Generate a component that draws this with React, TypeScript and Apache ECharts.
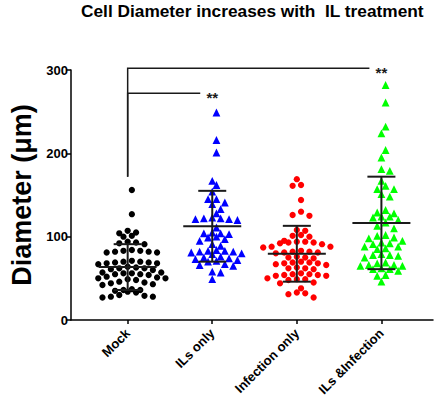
import React, { useEffect, useRef } from "react";
import * as echarts from "echarts";

const categories = ["Mock", "ILs only", "Infection only", "ILs &Infection"];

const mockValues = [
  156, 127, 107, 105, 104, 101, 100, 94, 93, 92, 91, 84, 83, 83, 82, 82, 81, 81,
  71, 70, 70, 69, 69, 68, 68, 67, 64, 63, 62, 62, 61, 60, 57, 57, 56, 56, 55, 55,
  54, 52, 51, 50, 50, 49, 48, 46, 45, 44, 43, 42, 37, 36, 36, 35, 34, 33, 30, 29,
  28, 28, 27,
];
const ilsValues = [
  249, 216, 201, 167, 162, 154, 145, 145, 141, 139, 133, 128, 123, 122, 122, 121,
  121, 120, 111, 105, 104, 104, 103, 100, 99, 97, 95, 91, 89, 84, 83, 83, 82, 82,
  81, 80, 79, 76, 75, 74, 73, 72, 71, 70, 67, 66, 65, 58, 57, 49,
];
const infectionValues = [
  169, 162, 161, 144, 130, 126, 125, 108, 107, 102, 101, 100, 95, 94, 94, 93, 93,
  92, 91, 88, 88, 87, 83, 82, 82, 81, 81, 80, 76, 75, 75, 74, 70, 69, 69, 68, 68,
  67, 66, 63, 62, 62, 61, 56, 55, 55, 54, 54, 53, 53, 50, 49, 49, 48, 45, 44, 38,
  33, 32, 31, 27,
];
const ilsInfectionValues = [
  282, 261, 232, 224, 204, 195, 181, 179, 167, 161, 157, 157, 151, 148, 132, 129,
  128, 124, 124, 123, 120, 117, 113, 110, 102, 101, 99, 98, 95, 93, 92, 91, 88, 88,
  86, 85, 79, 78, 78, 77, 75, 69, 68, 66, 66, 65, 65, 62, 61, 61, 59, 54, 53, 46,
];

const groupMeans = [63.5, 112.5, 79.5, 116.5];
const groupSDs = [27.5, 42.5, 33.5, 55.5];

const yTicks = [0, 100, 200, 300];

// significance comparisons
const comparisonFrom = [0, 0];
const comparisonTo = [3, 1];
const comparisonLevel = [302, 272];
const comparisonStart = [172, 172];
const comparisonLabel = ["**", "**"];

const FONT = "'Liberation Sans', Arial, sans-serif";

const groups = [
  { values: mockValues, color: "#000000", symbol: "circle", size: 6.3 },
  { values: ilsValues, color: "#0000FF", symbol: "triangle", size: 7.8 },
  { values: infectionValues, color: "#FF0000", symbol: "circle", size: 6.3 },
  { values: ilsInfectionValues, color: "#00FF00", symbol: "triangle", size: 7.8 },
];

// staggered-row scatter layout (rows of height rowH px, points spaced step px)
function rowLayout(values: number[], pxY: number, rowH: number, step: number): number[] {
  const rows = new Map<number, number[]>();
  values.forEach((v, i) => {
    const r = Math.round((v * pxY) / rowH);
    if (!rows.has(r)) rows.set(r, []);
    rows.get(r)!.push(i);
  });
  const result = new Array(values.length).fill(0);
  rows.forEach((idxs, r) => {
    const odd = Math.abs(r) % 2 === 1;
    idxs.forEach((idx, k) => {
      let pos: number;
      if (!odd) {
        const m = Math.ceil(k / 2);
        pos = k === 0 ? 0 : (k % 2 === 1 ? m : -m);
      } else {
        const m = Math.floor(k / 2) + 0.5;
        pos = k % 2 === 0 ? m : -m;
      }
      result[idx] = pos * step;
    });
  });
  return result;
}

export default function App() {
  const ref = useRef<HTMLDivElement>(null);
  useEffect(() => {
    if (!ref.current) return;
    const chart = echarts.init(ref.current, undefined, { renderer: "svg" });
    const baseOption: any = {
      animation: false,
      backgroundColor: "#ffffff",
      title: {
        text: "Cell Diameter increases with  IL treatment",
        left: 76,
        top: -3,
        textStyle: { fontFamily: FONT, fontWeight: "bold", fontSize: 17.3, color: "#000" },
      },
      grid: { left: 63, right: 7, top: 70, bottom: 82, containLabel: false },
      xAxis: {
        type: "value",
        min: -0.67,
        max: 3.61,
        splitLine: { show: false },
        axisLine: { show: true, onZero: false, lineStyle: { color: "#000", width: 1.5 } },
        axisTick: { show: true, customValues: [0, 1, 2, 3], length: 4, lineStyle: { color: "#000", width: 1.5 } },
        axisLabel: {
          show: true,
          customValues: [0, 1, 2, 3],
          formatter: (v: number) => categories[Math.round(v)] ?? "",
          rotate: 45,
          margin: 11,
          fontFamily: FONT,
          fontWeight: "bold",
          fontSize: 13,
          color: "#000",
        },
      },
      yAxis: {
        type: "value",
        min: 0,
        max: 300,
        interval: 100,
        name: "Diameter (μm)",
        nameLocation: "middle",
        nameGap: 36,
        nameTextStyle: { fontFamily: FONT, fontWeight: "bold", fontSize: 27, color: "#000" },
        splitLine: { show: false },
        axisLine: { show: true, onZero: false, lineStyle: { color: "#000", width: 1.5 } },
        axisTick: { show: true, length: 5, lineStyle: { color: "#000", width: 1.5 } },
        axisLabel: {
          margin: 3,
          formatter: (v: number) => (yTicks.includes(v) ? String(v) : ""),
          fontFamily: FONT,
          fontWeight: "bold",
          fontSize: 13,
          color: "#000",
        },
      },
      series: [],
    };
    chart.setOption(baseOption);
    const p0 = chart.convertToPixel({ gridIndex: 0 }, [0, 0]) as number[];
    const p1 = chart.convertToPixel({ gridIndex: 0 }, [1, 100]) as number[];
    const pxX = p1[0] - p0[0];
    const pxY = (p0[1] - p1[1]) / 100;

    const scatterSeries = groups.map((g, gi) => {
      const offs = rowLayout(g.values, pxY, 6.3, 8.4);
      return {
        type: "scatter",
        symbol: g.symbol,
        symbolSize: g.size,
        itemStyle: { color: g.color, opacity: 1 },
        z: 2,
        data: g.values.map((v, i) => [gi + offs[i] / pxX, v]),
      };
    });

    const meanSeries = {
      type: "custom",
      z: 5,
      encode: { x: 0, y: 1 },
      data: groupMeans.map((m, i) => [i, m]),
      renderItem: (params: any, api: any) => {
        const i = params.dataIndex;
        const x = api.value(0);
        const m = api.value(1);
        const s = groupSDs[i];
        const c = api.coord([x, m]);
        const t = api.coord([x, m + s]);
        const b = api.coord([x, m - s]);
        const style = { stroke: "#1a1a1a", lineWidth: 2 };
        return {
          type: "group",
          children: [
            { type: "line", shape: { x1: c[0] - 29, y1: c[1], x2: c[0] + 29, y2: c[1] }, style },
            { type: "line", shape: { x1: c[0], y1: t[1], x2: c[0], y2: b[1] }, style },
            { type: "line", shape: { x1: c[0] - 14, y1: t[1], x2: c[0] + 14, y2: t[1] }, style },
            { type: "line", shape: { x1: c[0] - 14, y1: b[1], x2: c[0] + 14, y2: b[1] }, style },
          ],
        };
      },
    };

    const bracketSeries = {
      type: "custom",
      z: 6,
      clip: false,
      encode: { x: 0, y: 1 },
      data: comparisonFrom.map((f, i) => [f, comparisonLevel[i]]),
      renderItem: (params: any, api: any) => {
        const i = params.dataIndex;
        const from = comparisonFrom[i];
        const to = comparisonTo[i];
        const level = comparisonLevel[i];
        const start = comparisonStart[i];
        const a = api.coord([from, start]);
        const b = api.coord([from, level]);
        const c = api.coord([to, level]);
        return {
          type: "group",
          children: [
            {
              type: "polyline",
              shape: { points: [a, b, [c[0] - 12, c[1]]] },
              style: { stroke: "#1a1a1a", lineWidth: 1.5, fill: null },
            },
            {
              type: "text",
              x: c[0],
              y: c[1] + 4,
              style: {
                text: comparisonLabel[i],
                fontFamily: FONT,
                fontWeight: "bold",
                fontSize: 15,
                fill: "#1a1a1a",
                align: "center",
                verticalAlign: "middle",
              },
            },
          ],
        };
      },
    };

    chart.setOption({ series: [...scatterSeries, meanSeries, bracketSeries] });
    return () => chart.dispose();
  }, []);
  return (
    <div
      ref={ref}
      style={{ position: "fixed", left: 0, top: 0, width: 440, height: 402, background: "#fff" }}
    />
  );
}
